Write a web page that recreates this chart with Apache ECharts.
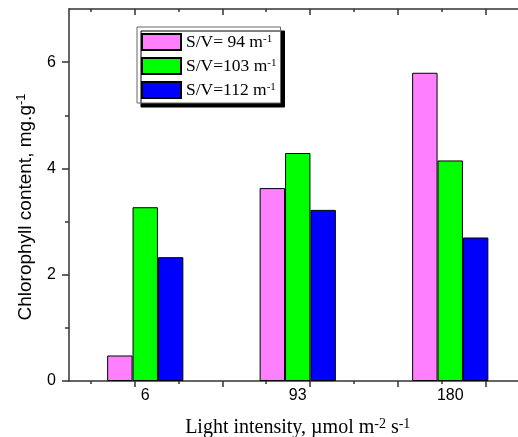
<!DOCTYPE html>
<html>
<head>
<meta charset="utf-8">
<script src="https://cdn.jsdelivr.net/npm/echarts@6/dist/echarts.min.js"></script>
<style>html,body{margin:0;padding:0;background:#fff;}#c{width:518px;height:437px;}</style>
</head>
<body>
<div id="c"></div>
<script>
const categories = ['6', '93', '180'];
const seriesNames = ['S/V= 94 m-1', 'S/V=103 m-1', 'S/V=112 m-1'];
const sv94 = [0.48, 3.63, 5.80];
const sv103 = [3.27, 4.29, 4.15];
const sv112 = [2.33, 3.22, 2.70];
const xMajorTicks = [0, 50, 100, 150, 200];
const xMinorTicks = [-25, 25, 75, 125, 175];
const yTickLabels = [0, 2, 4, 6];
const yMinorTicks = [1, 3, 5];

const colors = ['#FF80FF', '#00FF00', '#0000FF'];
const values = [sv94, sv103, sv112];
const axisColor = '#333';

function tickAxis(pos, vals, len, inside, showLine) {
  return {
    type: 'value', position: pos, min: -37.5, max: 223.5,
    axisLine: { show: showLine, onZero: false, lineStyle: { color: axisColor, width: 1.5 } },
    axisTick: { show: true, customValues: vals, length: len, inside: inside, lineStyle: { color: axisColor, width: 1.5 } },
    axisLabel: { show: false }, splitLine: { show: false }
  };
}

const chart = echarts.init(document.getElementById('c'));
chart.setOption({
  animation: false,
  grid: { left: 69, right: -8.5, top: 9, bottom: 56, containLabel: false, outerBoundsMode: 'none' },
  legend: {
    orient: 'vertical', left: 137, top: 27,
    itemWidth: 39, itemHeight: 16, itemGap: 6,
    padding: [6, 4, 4, 4],
    backgroundColor: '#fff', borderColor: '#666', borderWidth: 1,
    shadowColor: '#000', shadowBlur: 0, shadowOffsetX: 4, shadowOffsetY: 4,
    icon: 'rect',
    data: seriesNames,
    formatter: function (name) {
      const i = name.lastIndexOf('-1');
      return '{a|' + name.slice(0, i) + '}{s|-1}';
    },
    textStyle: {
      fontFamily: 'Liberation Serif', color: '#000', fontSize: 17.5,
      rich: {
        a: { fontFamily: 'Liberation Serif', fontSize: 17.5, color: '#000', lineHeight: 16 },
        s: { fontFamily: 'Liberation Serif', fontSize: 11, color: '#000', verticalAlign: 'top', lineHeight: 10 }
      }
    }
  },
  xAxis: [
    {
      type: 'category', data: categories, position: 'bottom',
      axisLine: { show: true, onZero: false, lineStyle: { color: axisColor, width: 1.5 } },
      axisTick: { show: false },
      axisLabel: { fontFamily: 'Liberation Sans', fontSize: 16, color: '#000', margin: 7 },
      name: '{a|Light intensity, \u00b5mol m}{s|-2}{a| s}{s|-1}',
      nameLocation: 'middle', nameGap: 36,
      nameTextStyle: {
        fontFamily: 'Liberation Serif', fontSize: 20, color: '#000',
        rich: {
          a: { fontFamily: 'Liberation Serif', fontSize: 20, color: '#000', lineHeight: 22 },
          s: { fontFamily: 'Liberation Serif', fontSize: 14, color: '#000', verticalAlign: 'top', lineHeight: 14 }
        }
      }
    },
    tickAxis('bottom', xMajorTicks, 6, false, false),
    tickAxis('bottom', xMinorTicks, 3, false, false),
    tickAxis('top', xMajorTicks, 6, true, true),
    tickAxis('top', xMinorTicks, 3, true, false)
  ],
  yAxis: [
    {
      type: 'value', min: 0, max: 7, position: 'left',
      axisLine: { show: true, onZero: false, lineStyle: { color: axisColor, width: 1.5 } },
      axisTick: { show: true, customValues: yTickLabels, length: 7, lineStyle: { color: axisColor, width: 1.5 } },
      axisLabel: { customValues: yTickLabels, fontFamily: 'Liberation Sans', fontSize: 16, color: '#000', margin: 13 },
      splitLine: { show: false },
      name: '{a|Chlorophyll content, mg.g}{s|-1}',
      nameLocation: 'middle', nameGap: 32,
      nameTextStyle: {
        fontFamily: 'Liberation Sans', fontSize: 19, color: '#000',
        padding: [0, 24, 0, 0],
        rich: {
          a: { fontFamily: 'Liberation Sans', fontSize: 19, color: '#000', lineHeight: 22 },
          s: { fontFamily: 'Liberation Sans', fontSize: 13, color: '#000', verticalAlign: 'top', lineHeight: 13 }
        }
      }
    },
    {
      type: 'value', min: 0, max: 7, position: 'left',
      axisLine: { show: false, onZero: false },
      axisTick: { show: true, customValues: yMinorTicks, length: 4, lineStyle: { color: axisColor, width: 1.5 } },
      axisLabel: { show: false }, splitLine: { show: false }
    }
  ],
  series: seriesNames.map(function (n, i) {
    return {
      name: n, type: 'bar', xAxisIndex: 0, yAxisIndex: 0,
      data: values[i], barWidth: 25.4, barGap: '0%',
      itemStyle: { color: colors[i], borderColor: '#000', borderWidth: 1 }
    };
  })
});
</script>
</body>
</html>
